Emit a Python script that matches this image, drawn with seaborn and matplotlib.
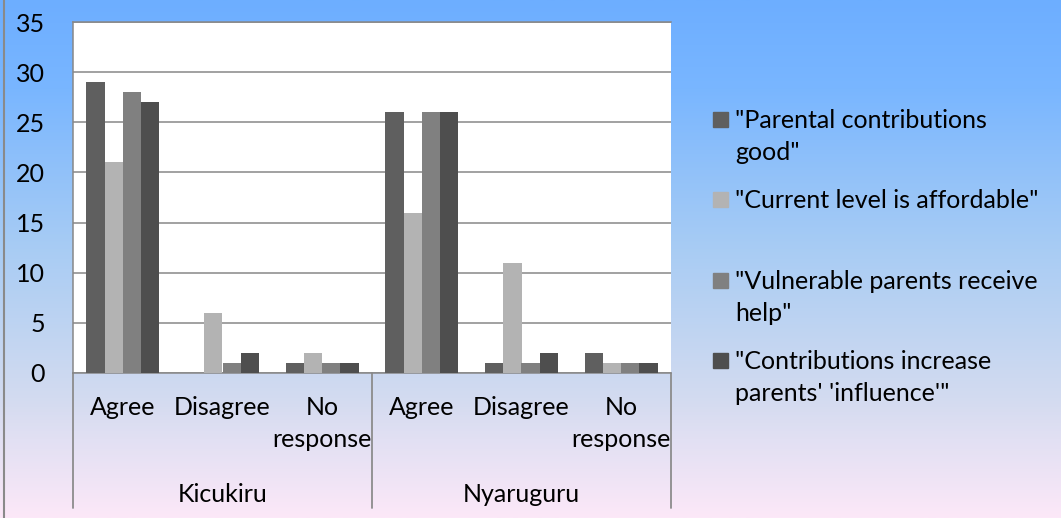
import numpy as np
import pandas as pd
import matplotlib
matplotlib.use('Agg')
import matplotlib.pyplot as plt
import seaborn as sns
from matplotlib.colors import LinearSegmentedColormap
from matplotlib.patches import Rectangle
import matplotlib.transforms as mtransforms

# Data
districts = ['Kicukiru', 'Nyaruguru']
responses = ['Agree', 'Disagree', 'No\nresponse']
series = ['"Parental contributions\ngood"',
          '"Current level is affordable"',
          '"Vulnerable parents receive\nhelp"',
          '"Contributions increase\nparents\' \'influence\'"']
parental_good = [29, 0, 1, 26, 1, 2]
affordable = [21, 6, 2, 16, 11, 1]
vulnerable_help = [28, 1, 1, 26, 1, 1]
influence = [27, 2, 1, 26, 2, 1]
y_ticks = [0, 5, 10, 15, 20, 25, 30, 35]

colors = ['#5f5f5f', '#b3b3b3', '#808080', '#4e4e4e']

# long-form table for seaborn
cats = [f'{d}|{r}' for d in districts for r in responses]
rows = []
for name, vals in zip(series, [parental_good, affordable, vulnerable_help, influence]):
    for c, v in zip(cats, vals):
        rows.append({'cat': c, 'series': name, 'value': v})
df = pd.DataFrame(rows)

sns.set_style('white')
plt.rcParams['font.family'] = ['Lato', 'DejaVu Sans']
FS = 18
LS = 1.45

fig = plt.figure(figsize=(10.61, 5.18), dpi=100)
W, H = 1061, 518

# gradient background
bg = fig.add_axes([0, 0, 1, 1], zorder=-10)
cmap = LinearSegmentedColormap.from_list('bg', [
    (0.0, '#6daeff'), (0.17, '#79b6ff'), (0.48, '#a8ccf4'),
    (0.77, '#d3dbf0'), (0.85, '#e2e0f3'), (1.0, '#fce8f8')])
bg.imshow(np.linspace(0, 1, 256).reshape(-1, 1), aspect='auto', cmap=cmap,
          extent=[0, 1, 0, 1], origin='upper')
bg.plot([3.5 / W, 3.5 / W], [0, 1], color='#8a8a8a', lw=1.5)
bg.set_xlim(0, 1)
bg.set_ylim(0, 1)
bg.axis('off')

left, right, top, bottom = 73, 671, 22, 373
ax = fig.add_axes([left / W, 1 - bottom / H, (right - left) / W, (bottom - top) / H])
ax.set_facecolor('white')

sns.barplot(data=df, x='cat', y='value', hue='series', order=cats,
            hue_order=series, palette=colors, width=0.73, gap=0,
            saturation=1, legend=False, ax=ax, linewidth=0, zorder=3)

ax.set_ylim(0, 35)
ax.set_xlim(-0.5, len(cats) - 0.5)
ax.set_yticks(y_ticks)
ax.set_yticklabels([str(t) for t in y_ticks], fontsize=FS, color='black')
ax.tick_params(axis='y', length=0, pad=20)
ax.set_xticks([])
ax.set_xlabel('')
ax.set_ylabel('')
ax.grid(axis='y', color='#878787', lw=1.1, zorder=1)
ax.set_axisbelow(True)
for s in ['left', 'top', 'bottom']:
    ax.spines[s].set_color('#878787')
    ax.spines[s].set_linewidth(1.1)
ax.spines['right'].set_visible(False)

# multi-level category axis
trans = mtransforms.blended_transform_factory(ax.transData, ax.transAxes)
ah = bottom - top
for i, c in enumerate(cats):
    lab = c.split('|')[1]
    ax.text(i, -(396 - bottom) / ah, lab, transform=trans, ha='center', va='top',
            fontsize=FS, linespacing=LS, clip_on=False, color='black')
for j, d in enumerate(districts):
    ax.text(j * 3 + 1, -(494 - bottom) / ah, d, transform=trans, ha='center',
            va='center', fontsize=FS, clip_on=False, color='black')
for xb in [-0.5, 2.5, 5.5]:
    ax.plot([xb, xb], [0, -(508 - bottom) / ah], transform=trans, color='#8c8c8c',
            lw=1.3, clip_on=False)

# legend (Excel-style evenly spaced entries)
entry_y = [120, 200, 281, 361]
for name, col, yy in zip(series, colors, entry_y):
    fig.patches.append(Rectangle((713 / W, 1 - (yy + 7) / H), 15 / W, 15 / H,
                                 transform=fig.transFigure, color=col))
    fig.text(735 / W, 1 - (yy - 11) / H, name, ha='left', va='top', fontsize=FS,
             linespacing=LS, color='black')

fig.savefig('out.png', dpi=100)
